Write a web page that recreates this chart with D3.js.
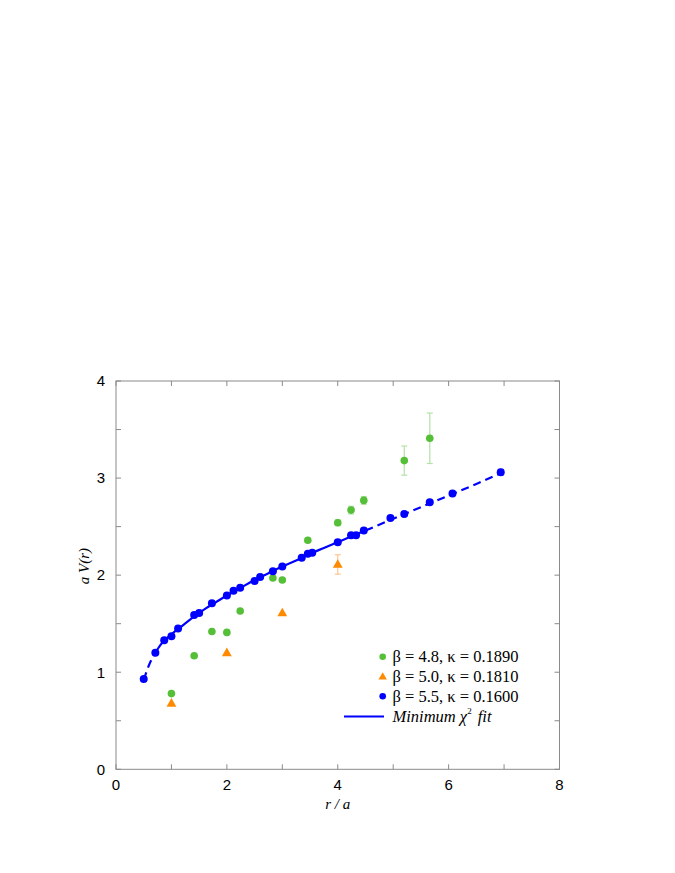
<!DOCTYPE html>
<html><head><meta charset="utf-8">
<script src="https://cdn.jsdelivr.net/npm/d3@7"></script>
<style>body{margin:0;background:#fff}svg{display:block}</style>
</head><body>
<script>
// beta = 4.8, kappa = 0.1890
const greenR   = [1.0, 1.41, 1.73, 2.0, 2.24, 2.83, 3.0, 3.46, 4.0, 4.24, 4.47, 5.20, 5.66];
const greenV   = [0.78, 1.17, 1.42, 1.41, 1.63, 1.97, 1.95, 2.36, 2.54, 2.67, 2.77, 3.18, 3.41];
const greenErr = [0.01, 0.01, 0.01, 0.01, 0.01, 0.01, 0.01, 0.02, 0.03, 0.04, 0.04, 0.15, 0.26];
// beta = 5.0, kappa = 0.1810
const orangeR   = [1.0, 2.0, 3.0, 4.0];
const orangeV   = [0.68, 1.20, 1.61, 2.11];
const orangeErr = [0.01, 0.01, 0.01, 0.10];
// beta = 5.5, kappa = 0.1600
const blueR = [0.5, 0.71, 0.87, 1.0, 1.12, 1.41, 1.5, 1.73, 2.0, 2.12, 2.24, 2.5, 2.6, 2.83, 3.0,
               3.35, 3.46, 3.54, 4.0, 4.24, 4.33, 4.47, 4.95, 5.2, 5.66, 6.07, 6.94];
const blueV = [0.93, 1.20, 1.33, 1.37, 1.45, 1.59, 1.61, 1.71, 1.79, 1.84, 1.87, 1.94, 1.98, 2.04, 2.09,
               2.18, 2.22, 2.23, 2.34, 2.41, 2.41, 2.46, 2.59, 2.63, 2.75, 2.84, 3.06];
const blueErr = [0.01, 0.01, 0.01, 0.01, 0.01, 0.01, 0.01, 0.01, 0.01, 0.01, 0.01, 0.01, 0.01, 0.01, 0.01,
                 0.01, 0.01, 0.01, 0.01, 0.01, 0.01, 0.01, 0.01, 0.01, 0.01, 0.01, 0.03];
// Minimum chi^2 fit curve
const fitR = [0.5, 0.6, 0.7, 0.8, 0.9, 1.0, 1.2, 1.4, 1.6, 1.8, 2.0, 2.25, 2.5, 2.75, 3.0, 3.25, 3.5, 3.75, 4.0, 4.25, 4.5,
              5.0, 5.5, 6.0, 6.5, 6.94];
const fitV = [0.92, 1.08, 1.19, 1.28, 1.34, 1.39, 1.48, 1.57, 1.65, 1.72, 1.79, 1.87, 1.95, 2.02, 2.09, 2.15, 2.22, 2.28, 2.34, 2.40, 2.46,
              2.58, 2.70, 2.82, 2.94, 3.05];
const solidFrom = 0.7, solidTo = 4.5;
const xTicks = [0, 2, 4, 6, 8];
const yTicks = [0, 1, 2, 3, 4];
const legendLabels = ["β = 4.8, κ = 0.1890", "β = 5.0, κ = 0.1810", "β = 5.5, κ = 0.1600"];

const W = 675, H = 873;
const L = 116, R = 559.5, T = 381, B = 769.3;
const green = "#55bf38", orange = "#ff8a00", blue = "#0000ff";
const axisCol = "#8a8a8a";

const svg = d3.select("body").append("svg").attr("width", W).attr("height", H);
const x = d3.scaleLinear().domain([0, 8]).range([L, R]);
const y = d3.scaleLinear().domain([0, 4]).range([B, T]);

// frame
svg.append("rect").attr("x", L).attr("y", T).attr("width", R - L).attr("height", B - T)
  .attr("fill", "none").attr("stroke", axisCol).attr("stroke-width", 1);

const tickLen = 5;
const xMinor = d3.range(0, 8.01, 1);
const yMinor = d3.range(0, 4.01, 0.5);
const tg = svg.append("g").attr("stroke", axisCol).attr("stroke-width", 1);
xMinor.forEach(v => {
  tg.append("line").attr("x1", x(v)).attr("x2", x(v)).attr("y1", B).attr("y2", B - tickLen);
  tg.append("line").attr("x1", x(v)).attr("x2", x(v)).attr("y1", T).attr("y2", T + tickLen);
});
yMinor.forEach(v => {
  tg.append("line").attr("y1", y(v)).attr("y2", y(v)).attr("x1", L).attr("x2", L + tickLen);
  tg.append("line").attr("y1", y(v)).attr("y2", y(v)).attr("x1", R).attr("x2", R - tickLen);
});

const font = "Liberation Sans, Arial, sans-serif";
svg.append("g").selectAll("text").data(xTicks).join("text")
  .attr("x", d => x(d)).attr("y", 789.5).attr("text-anchor", "middle")
  .attr("font-family", font).attr("font-size", 15).attr("fill", "#000").text(d => d);
svg.append("g").selectAll("text").data(yTicks).join("text")
  .attr("x", 105).attr("y", d => y(d) + 5.3).attr("text-anchor", "end")
  .attr("font-family", font).attr("font-size", 15).attr("fill", "#000").text(d => d);

const serif = "Liberation Serif, Times New Roman, serif";
svg.append("text").attr("x", x(4)).attr("y", 809).attr("text-anchor", "middle")
  .attr("font-family", serif).attr("font-style", "italic").attr("font-size", 15).text("r / a");
svg.append("text").attr("transform", `translate(89,${y(2) - 9}) rotate(-90)`).attr("text-anchor", "middle")
  .attr("font-family", serif).attr("font-style", "italic").attr("font-size", 15).text("a V(r)");

// fit line
const fit = fitR.map((r, i) => [r, fitV[i]]);
const line = d3.line().x(d => x(d[0])).y(d => y(d[1])).curve(d3.curveMonotoneX);
const seg1 = fit.filter(d => d[0] <= solidFrom);
const seg2 = fit.filter(d => d[0] >= solidFrom && d[0] <= solidTo);
const seg3 = fit.filter(d => d[0] >= solidTo);
svg.append("path").attr("d", line(seg1)).attr("fill", "none").attr("stroke", blue).attr("stroke-width", 2.2).attr("stroke-dasharray", "8,5");
svg.append("path").attr("d", line(seg2)).attr("fill", "none").attr("stroke", blue).attr("stroke-width", 2.2);
svg.append("path").attr("d", line(seg3)).attr("fill", "none").attr("stroke", blue).attr("stroke-width", 2.2).attr("stroke-dasharray", "8,5");

function errorBars(rs, vs, es, col) {
  const g = svg.append("g").attr("stroke", col).attr("stroke-width", 1.2);
  rs.forEach((r, i) => {
    if (es[i] < 0.02) return;
    const cx = x(r), y1 = y(vs[i] - es[i]), y2 = y(vs[i] + es[i]);
    g.append("line").attr("x1", cx).attr("x2", cx).attr("y1", y1).attr("y2", y2);
    g.append("line").attr("x1", cx - 3).attr("x2", cx + 3).attr("y1", y1).attr("y2", y1);
    g.append("line").attr("x1", cx - 3).attr("x2", cx + 3).attr("y1", y2).attr("y2", y2);
  });
}
errorBars(greenR, greenV, greenErr, "#b5e2a8");
errorBars(orangeR, orangeV, orangeErr, "#ffc690");
errorBars(blueR, blueV, blueErr, "#9a9aff");

const tri = d3.symbol().type(d3.symbolTriangle).size(42);
svg.append("g").selectAll("circle").data(greenR).join("circle")
  .attr("cx", d => x(d)).attr("cy", (d, i) => y(greenV[i])).attr("r", 3.8).attr("fill", green);
svg.append("g").selectAll("path").data(orangeR).join("path")
  .attr("d", tri).attr("transform", (d, i) => `translate(${x(d)},${y(orangeV[i]) + 0.5})`).attr("fill", orange);
svg.append("g").selectAll("circle").data(blueR).join("circle")
  .attr("cx", d => x(d)).attr("cy", (d, i) => y(blueV[i])).attr("r", 4).attr("fill", blue);

// legend
const lg = svg.append("g");
const ly = [656.7, 676.5, 696.3];
lg.append("circle").attr("cx", 382.7).attr("cy", ly[0]).attr("r", 3.3).attr("fill", green);
lg.append("path").attr("d", d3.symbol().type(d3.symbolTriangle).size(30)).attr("transform", `translate(382.7,${ly[1] + 0.5})`).attr("fill", orange);
lg.append("circle").attr("cx", 382.7).attr("cy", ly[2]).attr("r", 3.3).attr("fill", blue);
legendLabels.forEach((t, i) => {
  lg.append("text").attr("x", 392.5).attr("y", ly[i] + 5.5).attr("font-family", serif).attr("font-size", 16.5).text(t);
});
lg.append("line").attr("x1", 344).attr("x2", 384).attr("y1", 716.5).attr("y2", 716.5).attr("stroke", blue).attr("stroke-width", 2);
const ft = lg.append("text").attr("x", 392.5).attr("y", 721.5).attr("font-family", serif).attr("font-size", 16.5).attr("font-style", "italic");
ft.append("tspan").text("Minimum χ");
ft.append("tspan").attr("font-size", 9).attr("dy", -8).attr("font-style", "normal").text("2");
ft.append("tspan").attr("dy", 8).attr("dx", 2).text(" fit");
</script>
</body></html>
